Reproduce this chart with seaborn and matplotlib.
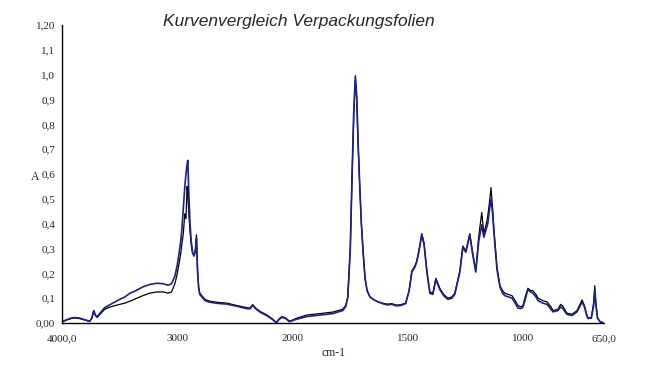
import numpy as np
import pandas as pd
import seaborn as sns
import matplotlib.pyplot as plt
from matplotlib.ticker import FixedLocator, FixedFormatter

# wavenumbers (cm-1)
wellenzahl = [
    4000, 3960, 3920, 3890, 3850, 3800, 3760, 3740, 3725, 3710, 3695, 3670,
    3630, 3580, 3540, 3500, 3455, 3410, 3360, 3300, 3240, 3180, 3120, 3080,
    3050, 3020, 3000, 2985, 2970, 2960, 2948, 2935, 2925, 2915, 2909, 2900,
    2890, 2880, 2868, 2855, 2843, 2834, 2825, 2815, 2805, 2760, 2720, 2650,
    2570, 2480, 2400, 2370, 2346, 2320, 2280, 2225, 2180, 2140, 2120, 2095,
    2060, 2030, 2010, 1980, 1939, 1880, 1826, 1783, 1770, 1761, 1750, 1742,
    1735, 1728, 1722, 1716, 1709, 1702, 1694, 1686, 1677, 1665, 1650, 1630,
    1610, 1590, 1570, 1550, 1530, 1510, 1495, 1483, 1470, 1462, 1453, 1440,
    1430, 1418, 1405, 1392, 1379, 1362, 1345, 1327, 1310, 1297, 1275, 1262,
    1249, 1232, 1219, 1206, 1193, 1180, 1171, 1160, 1154, 1146, 1140, 1133,
    1127, 1114, 1101, 1090, 1080, 1065, 1049, 1035, 1023, 1010, 1002, 990,
    980, 968, 958, 945, 936, 915, 897, 880, 871, 850, 838, 830, 811, 789,
    767, 752, 745, 735, 725, 719, 705, 695, 690, 685, 678, 667, 650,
]

folie_schwarz = [
    0.005, 0.012, 0.018, 0.020, 0.018, 0.012, 0.006, 0.020, 0.048, 0.030, 0.022, 0.035,
    0.055, 0.065, 0.070, 0.075, 0.080, 0.088, 0.098, 0.110, 0.120, 0.125, 0.125, 0.120,
    0.125, 0.160, 0.200, 0.240, 0.280, 0.320, 0.360, 0.440, 0.420, 0.550, 0.520, 0.440,
    0.370, 0.320, 0.280, 0.270, 0.300, 0.355, 0.220, 0.145, 0.120, 0.095, 0.088, 0.083,
    0.080, 0.070, 0.062, 0.060, 0.074, 0.060, 0.046, 0.033, 0.018, 0.002, 0.015, 0.026,
    0.020, 0.008, 0.010, 0.020, 0.032, 0.038, 0.044, 0.055, 0.070, 0.105, 0.300, 0.600,
    0.840, 0.980, 0.900, 0.720, 0.550, 0.400, 0.280, 0.180, 0.130, 0.105, 0.095, 0.085,
    0.080, 0.076, 0.078, 0.072, 0.074, 0.080, 0.130, 0.210, 0.230, 0.250, 0.290, 0.360,
    0.320, 0.210, 0.125, 0.120, 0.180, 0.140, 0.115, 0.100, 0.105, 0.120, 0.210, 0.310,
    0.290, 0.360, 0.280, 0.210, 0.350, 0.445, 0.360, 0.400, 0.430, 0.490, 0.545, 0.460,
    0.375, 0.225, 0.150, 0.130, 0.120, 0.115, 0.110, 0.090, 0.070, 0.065, 0.070, 0.110,
    0.140, 0.130, 0.130, 0.115, 0.100, 0.090, 0.085, 0.065, 0.050, 0.055, 0.075, 0.070,
    0.040, 0.035, 0.050, 0.080, 0.093, 0.070, 0.035, 0.020, 0.022, 0.080, 0.150, 0.080,
    0.020, 0.005, 0.000,
]

folie_blau = [
    0.005, 0.013, 0.020, 0.022, 0.020, 0.013, 0.007, 0.022, 0.050, 0.032, 0.025, 0.040,
    0.062, 0.075, 0.085, 0.095, 0.105, 0.120, 0.130, 0.145, 0.155, 0.160, 0.158, 0.152,
    0.158, 0.190, 0.235, 0.280, 0.330, 0.380, 0.460, 0.550, 0.600, 0.640, 0.655, 0.520,
    0.400, 0.330, 0.285, 0.270, 0.290, 0.340, 0.210, 0.140, 0.115, 0.090, 0.084, 0.079,
    0.076, 0.067, 0.058, 0.057, 0.071, 0.057, 0.043, 0.030, 0.016, 0.001, 0.013, 0.023,
    0.018, 0.006, 0.008, 0.016, 0.026, 0.032, 0.038, 0.050, 0.066, 0.102, 0.300, 0.610,
    0.850, 0.995, 0.910, 0.720, 0.550, 0.400, 0.280, 0.180, 0.130, 0.105, 0.095, 0.085,
    0.078, 0.073, 0.075, 0.069, 0.071, 0.078, 0.130, 0.205, 0.225, 0.245, 0.285, 0.355,
    0.315, 0.205, 0.120, 0.115, 0.175, 0.135, 0.110, 0.095, 0.100, 0.115, 0.205, 0.305,
    0.285, 0.355, 0.275, 0.205, 0.330, 0.395, 0.345, 0.380, 0.400, 0.460, 0.500, 0.440,
    0.360, 0.215, 0.145, 0.120, 0.110, 0.105, 0.100, 0.080, 0.060, 0.058, 0.063, 0.100,
    0.135, 0.125, 0.120, 0.105, 0.090, 0.080, 0.075, 0.055, 0.045, 0.050, 0.065, 0.060,
    0.035, 0.030, 0.045, 0.072, 0.085, 0.065, 0.030, 0.018, 0.020, 0.070, 0.130, 0.070,
    0.020, 0.005, 0.000,
]

x_ticks = [4000, 3000, 2000, 1500, 1000, 650]
x_tick_labels = ["4000,0", "3000", "2000", "1500", "1000", "650,0"]
y_ticks = [0.0, 0.1, 0.2, 0.3, 0.4, 0.5, 0.6, 0.7, 0.8, 0.9, 1.0, 1.1, 1.2]
y_tick_labels = ["0,00", "0,1", "0,2", "0,3", "0,4", "0,5", "0,6", "0,7",
                 "0,8", "0,9", "1,0", "1,1", "1,20"]


# Achse ist oberhalb 2000 cm-1 halb so dicht skaliert
def vorwaerts(x):
    x = np.asarray(x, dtype=float)
    return np.where(x >= 2000, 2000 + (x - 2000) * 0.5, x)


def rueckwaerts(u):
    u = np.asarray(u, dtype=float)
    return np.where(u >= 2000, 2000 + (u - 2000) * 2.0, u)


def main():
    sns.set_style("white")

    df = pd.DataFrame({
        "cm-1": wellenzahl,
        "schwarz": folie_schwarz,
        "blau": folie_blau,
    })

    fig = plt.figure(figsize=(6.48, 3.72), dpi=100)
    ax = fig.add_axes([62 / 648, 1 - 323 / 372, 542 / 648, 298 / 372])

    sns.lineplot(data=df, x="cm-1", y="schwarz", ax=ax, color="black",
                 linewidth=0.9, sort=False)
    sns.lineplot(data=df, x="cm-1", y="blau", ax=ax, color="#1e1e8c",
                 linewidth=1.2, sort=False)

    ax.set_xscale("function", functions=(vorwaerts, rueckwaerts))
    ax.set_xlim(4000, 650)
    ax.set_ylim(0, 1.2)

    ax.xaxis.set_major_locator(FixedLocator(x_ticks))
    ax.xaxis.set_major_formatter(FixedFormatter(x_tick_labels))
    ax.xaxis.set_minor_locator(FixedLocator([]))
    ax.yaxis.set_major_locator(FixedLocator(y_ticks))
    ax.yaxis.set_major_formatter(FixedFormatter(y_tick_labels))

    schrift = ["Liberation Serif", "DejaVu Serif"]
    for lab in ax.get_xticklabels() + ax.get_yticklabels():
        lab.set_family(schrift)
        lab.set_fontsize(8)

    ax.tick_params(axis="both", direction="out", length=3, width=0.8,
                   color="black", pad=2)
    ax.tick_params(axis="x", pad=5)

    sns.despine(ax=ax)
    for s in ["left", "bottom"]:
        ax.spines[s].set_color("black")
        ax.spines[s].set_linewidth(1.0)

    ax.set_xlabel("cm-1", family=schrift, fontsize=8.5, labelpad=3)
    ax.set_ylabel("A", family=schrift, fontsize=8.5, rotation=0)
    ax.yaxis.set_label_coords(-0.05, 0.47)

    fig.text(0.461, 0.943, "Kurvenvergleich Verpackungsfolien",
             family=["Liberation Sans", "DejaVu Sans"], style="italic",
             fontsize=12.5, ha="center", va="center")

    fig.savefig("out.png", dpi=100, facecolor="white")


if __name__ == "__main__":
    main()
